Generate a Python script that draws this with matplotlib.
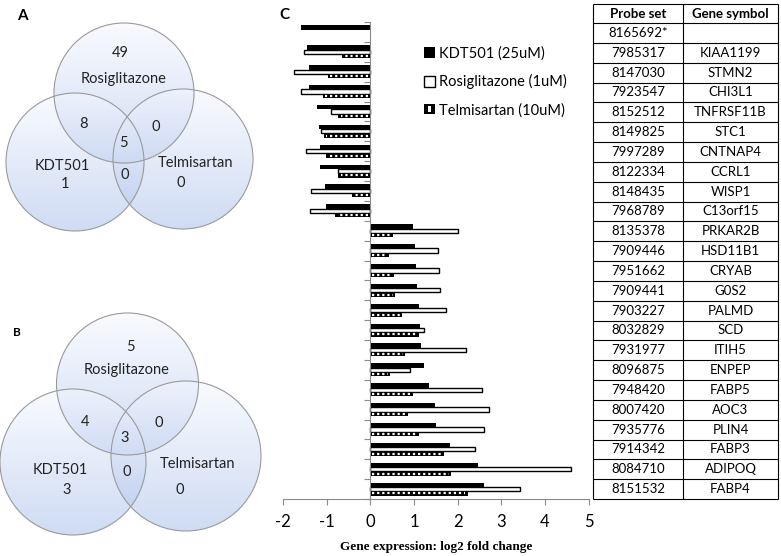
import numpy as np
import matplotlib
matplotlib.use('Agg')
import matplotlib.pyplot as plt
from matplotlib.patches import Circle, Rectangle, Patch

plt.rcParams['font.family'] = ['Lato', 'DejaVu Sans']

# ---- data ----
probes = ['8165692*', '7985317', '8147030', '7923547', '8152512', '8149825',
          '7997289', '8122334', '8148435', '7968789', '8135378', '7909446',
          '7951662', '7909441', '7903227', '8032829', '7931977', '8096875',
          '7948420', '8007420', '7935776', '7914342', '8084710', '8151532']
genes = ['', 'KIAA1199', 'STMN2', 'CHI3L1', 'TNFRSF11B', 'STC1', 'CNTNAP4',
         'CCRL1', 'WISP1', 'C13orf15', 'PRKAR2B', 'HSD11B1', 'CRYAB', 'G0S2',
         'PALMD', 'SCD', 'ITIH5', 'ENPEP', 'FABP5', 'AOC3', 'PLIN4', 'FABP3',
         'ADIPOQ', 'FABP4']
kdt501 = [-1.59, -1.44, -1.41, -1.40, -1.22, -1.17, -1.15, -1.15, -1.03, -1.02,
          0.99, 1.02, 1.05, 1.08, 1.12, 1.15, 1.17, 1.22, 1.35, 1.49, 1.51, 1.82,
          2.46, 2.61]
rosiglitazone = [np.nan, -1.53, -1.75, -1.58, -0.89, -1.12, -1.47, -0.73, -1.36,
                 -1.39, 2.00, 1.55, 1.57, 1.60, 1.74, 1.23, 2.20, 0.90, 2.55,
                 2.71, 2.60, 2.39, 4.59, 3.44]
telmisartan = [np.nan, -0.64, -0.98, -1.09, -0.73, -1.07, -1.02, -0.73, -0.41,
               -0.80, 0.53, 0.42, 0.55, 0.57, 0.73, 1.12, 0.79, 0.46, 0.99, 0.86,
               1.11, 1.70, 1.85, 2.23]
series_labels = ['KDT501 (25uM)', 'Rosiglitazone (1uM)', 'Telmisartan (10uM)']
x_ticks = [-2, -1, 0, 1, 2, 3, 4, 5]

venn_names = ['Rosiglitazone', 'KDT501', 'Telmisartan']
# regions: R only, R&K, R&T, all, K only, K&T, T only
venn_a = [49, 8, 0, 5, 1, 0, 0]
venn_b = [5, 4, 0, 3, 3, 0, 0]

fig = plt.figure(figsize=(7.81, 5.56), dpi=100)

# ---- bar chart (C) ----
ax = fig.add_axes([283 / 781, 57 / 556, 305.5 / 781, 477 / 556])
y = np.arange(len(probes))
h = 0.22
ax.barh(y - h, kdt501, height=h, color='black')
ax.barh(y, rosiglitazone, height=h, facecolor='white', edgecolor='black', linewidth=1)
ax.barh(y + h, telmisartan, height=h, color='black')
# white squares inside the telmisartan bars
for yy, v in zip(y + h, telmisartan):
    if np.isnan(v):
        continue
    s = np.sign(v)
    ax.plot([s * 0.05, v - s * 0.05], [yy, yy], color='white', lw=1.6,
            linestyle=(0, (1.0, 1.3)), solid_capstyle='butt')

ax.set_xlim(-2, 5)
ax.set_ylim(len(probes) - 0.5, -0.5)
ax.set_xticks(x_ticks)
ax.set_xticklabels([str(t) for t in x_ticks], fontsize=12)
ax.set_yticks(np.arange(-0.5, len(probes)))
ax.set_yticklabels([])
for s in ['top', 'right']:
    ax.spines[s].set_visible(False)
ax.spines['left'].set_position(('data', 0))
ax.spines['left'].set_color('#8a8a8a')
ax.spines['bottom'].set_color('#8a8a8a')
ax.tick_params(axis='both', color='#8a8a8a', length=4)
ax.tick_params(axis='x', pad=7)
ax.set_xlabel('Gene expression: log2 fold change', fontsize=9.5, fontweight='bold',
              family='Liberation Serif', labelpad=8)


class StripeHandler:
    def legend_artist(self, legend, orig_handle, fontsize, handlebox):
        x0, y0 = handlebox.xdescent, handlebox.ydescent
        w, hh = handlebox.width, handlebox.height
        tr = handlebox.get_transform()
        outer = Rectangle((x0, y0), w, hh, facecolor='black', transform=tr)
        inner = Rectangle((x0 + w * 0.38, y0 + hh * 0.18), w * 0.28, hh * 0.64,
                          facecolor='white', lw=0, transform=tr)
        handlebox.add_artist(outer)
        handlebox.add_artist(inner)
        return outer


handles = [Patch(facecolor='black'), Patch(facecolor='white', edgecolor='black'),
           Patch(facecolor='gray')]
fig.legend(handles, series_labels, loc='upper left',
           bbox_to_anchor=(411 / 781, 1 - 33 / 556), frameon=False, fontsize=10.5,
           handlelength=0.75, handleheight=0.75, handletextpad=0.3, labelspacing=0.95,
           handler_map={handles[2]: StripeHandler()})

# ---- overlay in pixel coordinates: venns, table, panel letters ----
ov = fig.add_axes([0, 0, 1, 1])
ov.set_xlim(0, 781)
ov.set_ylim(556, 0)
ov.axis('off')

grad = np.linspace(0, 1, 256)[:, None]
top_c = np.array([0.96, 0.97, 1.0])
bot_c = np.array([0.66, 0.75, 0.92])
rgba = np.zeros((256, 1, 4))
rgba[..., :3] = top_c + (bot_c - top_c) * grad[..., None]
rgba[..., 3] = 0.55


def draw_venn(circles, counts, count_pos, name_pos):
    for cx, cy, r in circles:
        c = Circle((cx, cy), r, facecolor='none', edgecolor='#9a9a9a', lw=0.8)
        ov.add_patch(c)
        im = ov.imshow(rgba, extent=(cx - r, cx + r, cy + r, cy - r), aspect='auto',
                       interpolation='bilinear')
        im.set_clip_path(c)
    for n, (px, py) in zip(counts, count_pos):
        ov.text(px, py, str(n), ha='center', va='center', fontsize=10.5, color='#222222')
    for name, (px, py) in zip(venn_names, name_pos):
        ov.text(px, py, name, ha='center', va='center', fontsize=10.5, color='#222222')


draw_venn([(124, 93, 70), (75, 162, 69), (183, 159, 70)], venn_a,
          [(120, 53), (83, 124), (156, 127), (123, 143), (65, 184), (125, 175), (181, 183)],
          [(124, 79), (62, 166), (196, 163)])
draw_venn([(127.5, 384, 71), (73, 462, 73), (186, 456, 75)], venn_b,
          [(130, 347), (85, 422), (159, 423), (125, 438), (67, 490), (127, 472), (180, 490)],
          [(127, 370), (60, 470), (197, 464)])
ov.set_xlim(0, 781)
ov.set_ylim(556, 0)

ov.text(22, 16, 'A', fontsize=11, fontweight='bold', ha='center', va='center')
ov.text(17, 332, 'B', fontsize=8.5, fontweight='bold', ha='center', va='center')
ov.text(284, 15, 'C', fontsize=11, fontweight='bold', ha='center', va='center')

# table
tx = [593, 683, 778]
row_top, row_h = 23, 476 / len(probes)
row_edges = [4] + [row_top + i * row_h for i in range(len(probes) + 1)]
ov.hlines(row_edges, tx[0], tx[-1], color='black', lw=0.8)
ov.vlines(tx, row_edges[0], row_edges[-1], color='black', lw=0.8)
ov.text((tx[0] + tx[1]) / 2, 14, 'Probe set', ha='center', va='center', fontsize=9.5,
        fontweight='bold')
ov.text((tx[1] + tx[2]) / 2, 14, 'Gene symbol', ha='center', va='center', fontsize=9.5,
        fontweight='bold')
for i, (p, g) in enumerate(zip(probes, genes)):
    yc = row_top + (i + 0.5) * row_h
    ov.text((tx[0] + tx[1]) / 2, yc, p, ha='center', va='center', fontsize=9.5)
    ov.text((tx[1] + tx[2]) / 2, yc, g, ha='center', va='center', fontsize=9.5)

fig.savefig('out.png', dpi=100)
